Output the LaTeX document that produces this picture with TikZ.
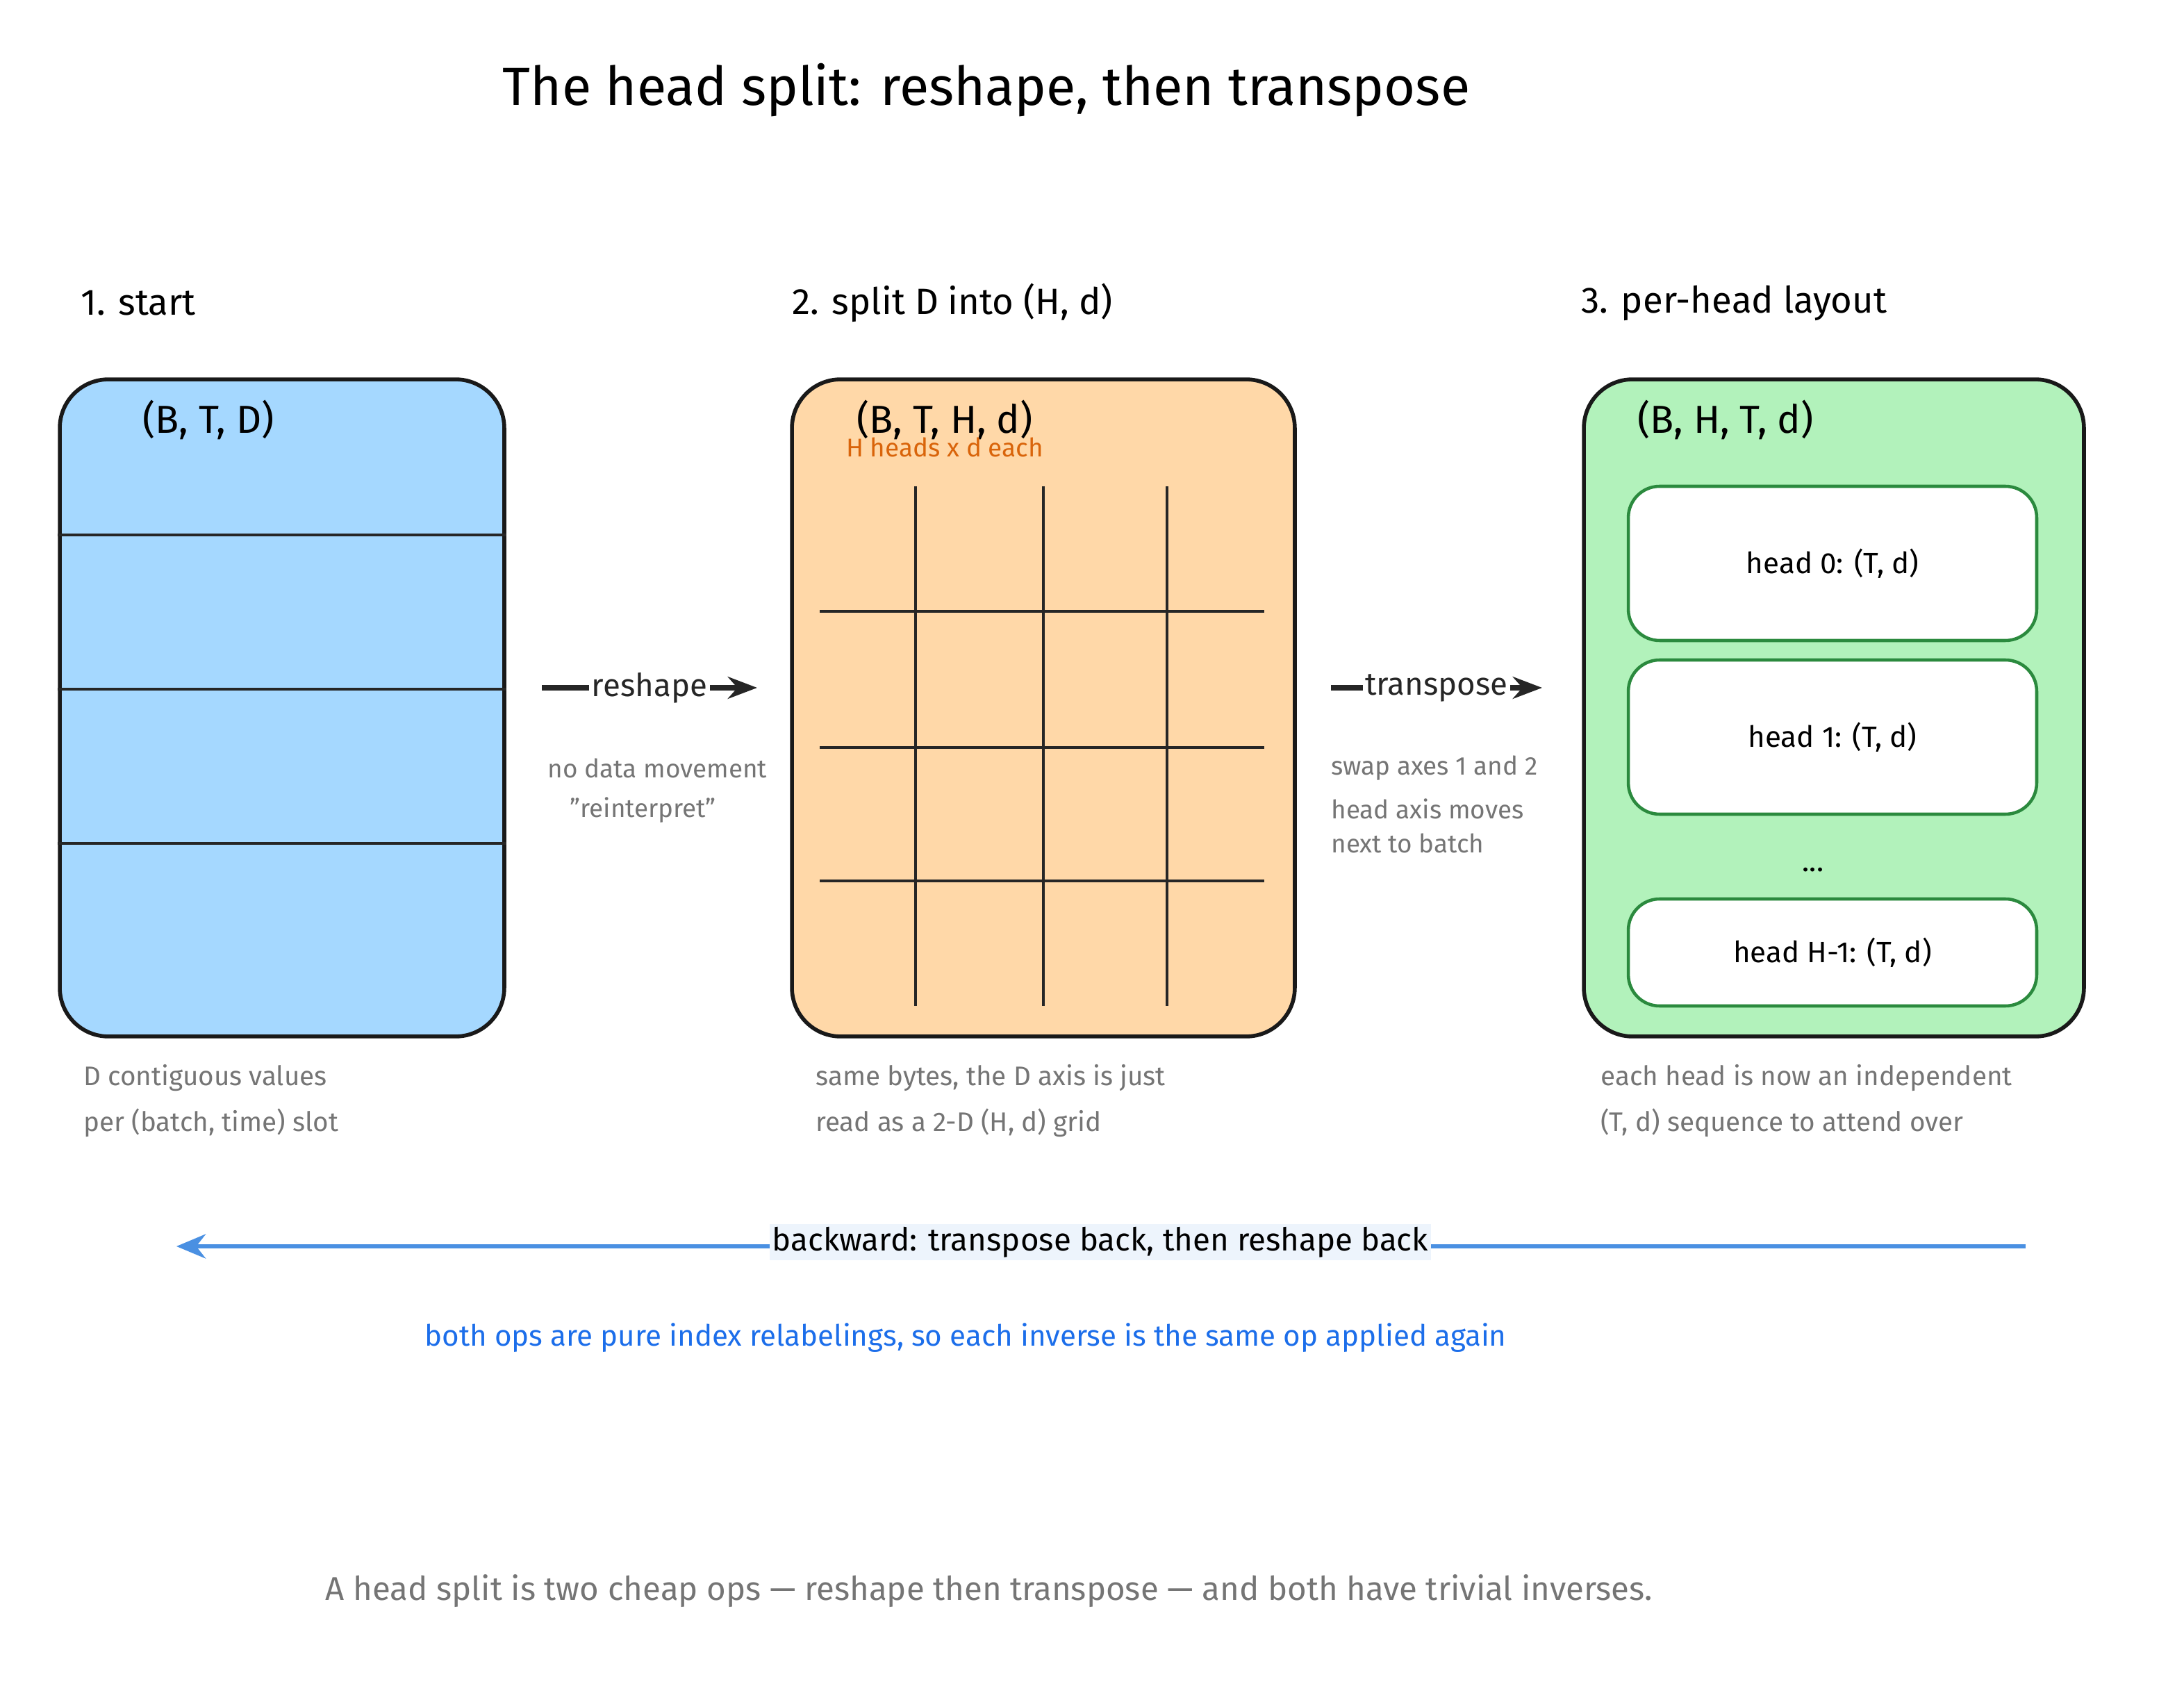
\documentclass[tikz,border=0pt]{standalone}
\usepackage{fontspec}
\setmainfont{Fira Sans}
\usetikzlibrary{positioning, arrows.meta}
\definecolor{boxblue}{HTML}{A5D8FF}
\definecolor{boxorange}{HTML}{FFD8A8}
\definecolor{boxgreen}{HTML}{B2F2BB}
\definecolor{headgreen}{HTML}{2B8A3E}
\definecolor{notegray}{HTML}{757575}
\definecolor{backblue}{HTML}{4A90E2}
\definecolor{textblue}{HTML}{1C6EEA}
\definecolor{orangetext}{HTML}{D9640A}

\begin{document}
\begin{tikzpicture}[x=0.02cm, y=-0.02cm, >=Stealth,
    stage/.style={draw=black!90, line width=1.6pt, rounded corners=0.7cm},
    headbox/.style={draw=headgreen, fill=white, line width=1.3pt, rounded corners=0.45cm},
    cell/.style={line width=1pt, black!85},
    title/.style={font=\fontsize{15}{18}\selectfont, anchor=west},
    dims/.style={font=\fontsize{16}{19}\selectfont},
    note/.style={font=\fontsize{10.5}{13}\selectfont, text=notegray, anchor=west},
    oplabel/.style={font=\fontsize{13}{16}\selectfont, fill=white, inner sep=1pt}]
    \useasboundingbox (0,0) rectangle (1572,1212);

    % Title and stage headings
    \node (title) at (710,65) {\fontsize{22}{26}\selectfont The head split: reshape, then transpose};
    \node (h1) [title] at (52,218) {1. start};
    \node (h2) [title] at (564,218) {2. split D into (H, d)};
    \node (h3) [title] at (1132,218) {3. per-head layout};

    % Stage 1: flat rows
    \node (start) [stage, fill=boxblue, minimum width=6.4cm, minimum height=9.46cm] at (203,509.5) {};
    \node (bt) [dims] at (150,302) {(B, T, D)};
    \foreach \yy in {385,496,607}
        \draw[cell] (start.west |- 0,\yy) -- (start.east |- 0,\yy);

    % Stage 2: grid
    \node (split) [stage, fill=boxorange, minimum width=7.24cm, minimum height=9.46cm] at (751,509.5) {};
    \node (bthd) [dims] at (680,302) {(B, T, H, d)};
    \node (hx) [font=\fontsize{10.5}{13}\selectfont, text=orangetext] at (680,322) {H heads x d each};
    \foreach \xx in {659,751,840}
        \draw[cell] (\xx,350) -- (\xx,724);
    \foreach \yy in {440,538,634}
        \draw[cell] (590,\yy) -- (910,\yy);

    % Stage 3: per-head boxes
    \node (perhead) [stage, fill=boxgreen, minimum width=7.2cm, minimum height=9.46cm] at (1320,509.5) {};
    \node (bhtd) [dims] at (1242,302) {(B, H, T, d)};
    \node (head0) [headbox, minimum width=5.88cm, minimum height=2.22cm, font=\fontsize{12}{14}\selectfont] at (1319,405.5) {head 0: (T, d)};
    \node (head1) [headbox, minimum width=5.88cm, minimum height=2.22cm, font=\fontsize{12}{14}\selectfont] at (1319,530.5) {head 1: (T, d)};
    \node (dots) [font=\fontsize{12}{14}\selectfont] at (1305,626) {...};
    \node (headH) [headbox, minimum width=5.88cm, minimum height=1.54cm, font=\fontsize{12}{14}\selectfont] at (1319,685.5) {head H-1: (T, d)};

    % Forward ops
    \coordinate (r0) at (390,495);
    \coordinate (r1) at (545,495);
    \draw[->, line width=2pt, black!85] (r0) -- (r1) node[oplabel, pos=0.5] (reshape) {reshape};
    \node (nodata) [note] at (388,553) {no data movement};
    \node (reint) [note] at (404,583) {\symbol{34}reinterpret\symbol{34}};
    \coordinate (t0) at (958,495);
    \coordinate (t1) at (1110,495);
    \draw[->, line width=2pt, black!85] (t0) -- (t1) node[oplabel, pos=0.5] (transpose) {transpose};
    \node (swap) [note] at (952,553) {swap axes 1 and 2};
    \node (moves) [note] at (952,582) {head axis moves};
    \node (batch) [note] at (952,607) {next to batch};

    % Captions
    \node (c1a) [note, font=\fontsize{11}{13}\selectfont] at (54,776) {D contiguous values};
    \node (c1b) [note, font=\fontsize{11}{13}\selectfont] at (54,808) {per (batch, time) slot};
    \node (c2a) [note, font=\fontsize{11}{13}\selectfont] at (581,776) {same bytes, the D axis is just};
    \node (c2b) [note, font=\fontsize{11}{13}\selectfont] at (581,808) {read as a 2-D (H, d) grid};
    \node (c3a) [note, font=\fontsize{11}{13}\selectfont] at (1146,776) {each head is now an independent};
    \node (c3b) [note, font=\fontsize{11}{13}\selectfont] at (1146,808) {(T, d) sequence to attend over};

    % Backward
    \coordinate (bstart) at (1458,897);
    \coordinate (bend) at (127,897);
    \draw[line width=1.5pt, backblue, -{Stealth[length=12pt, width=10pt]}] (bstart) -- (bend);
    \node (back) [font=\fontsize{13}{16}\selectfont, fill=backblue!10, inner sep=1pt] at (792,894) {backward: transpose back, then reshape back};
    \node (both) [font=\fontsize{12}{14}\selectfont, text=textblue] at (695,963) {both ops are pure index relabelings, so each inverse is the same op applied again};

    % Footer
    \node (footer) [font=\fontsize{13.5}{16}\selectfont, text=notegray] at (712,1145) {A head split is two cheap ops — reshape then transpose — and both have trivial inverses.};
\end{tikzpicture}
\end{document}
